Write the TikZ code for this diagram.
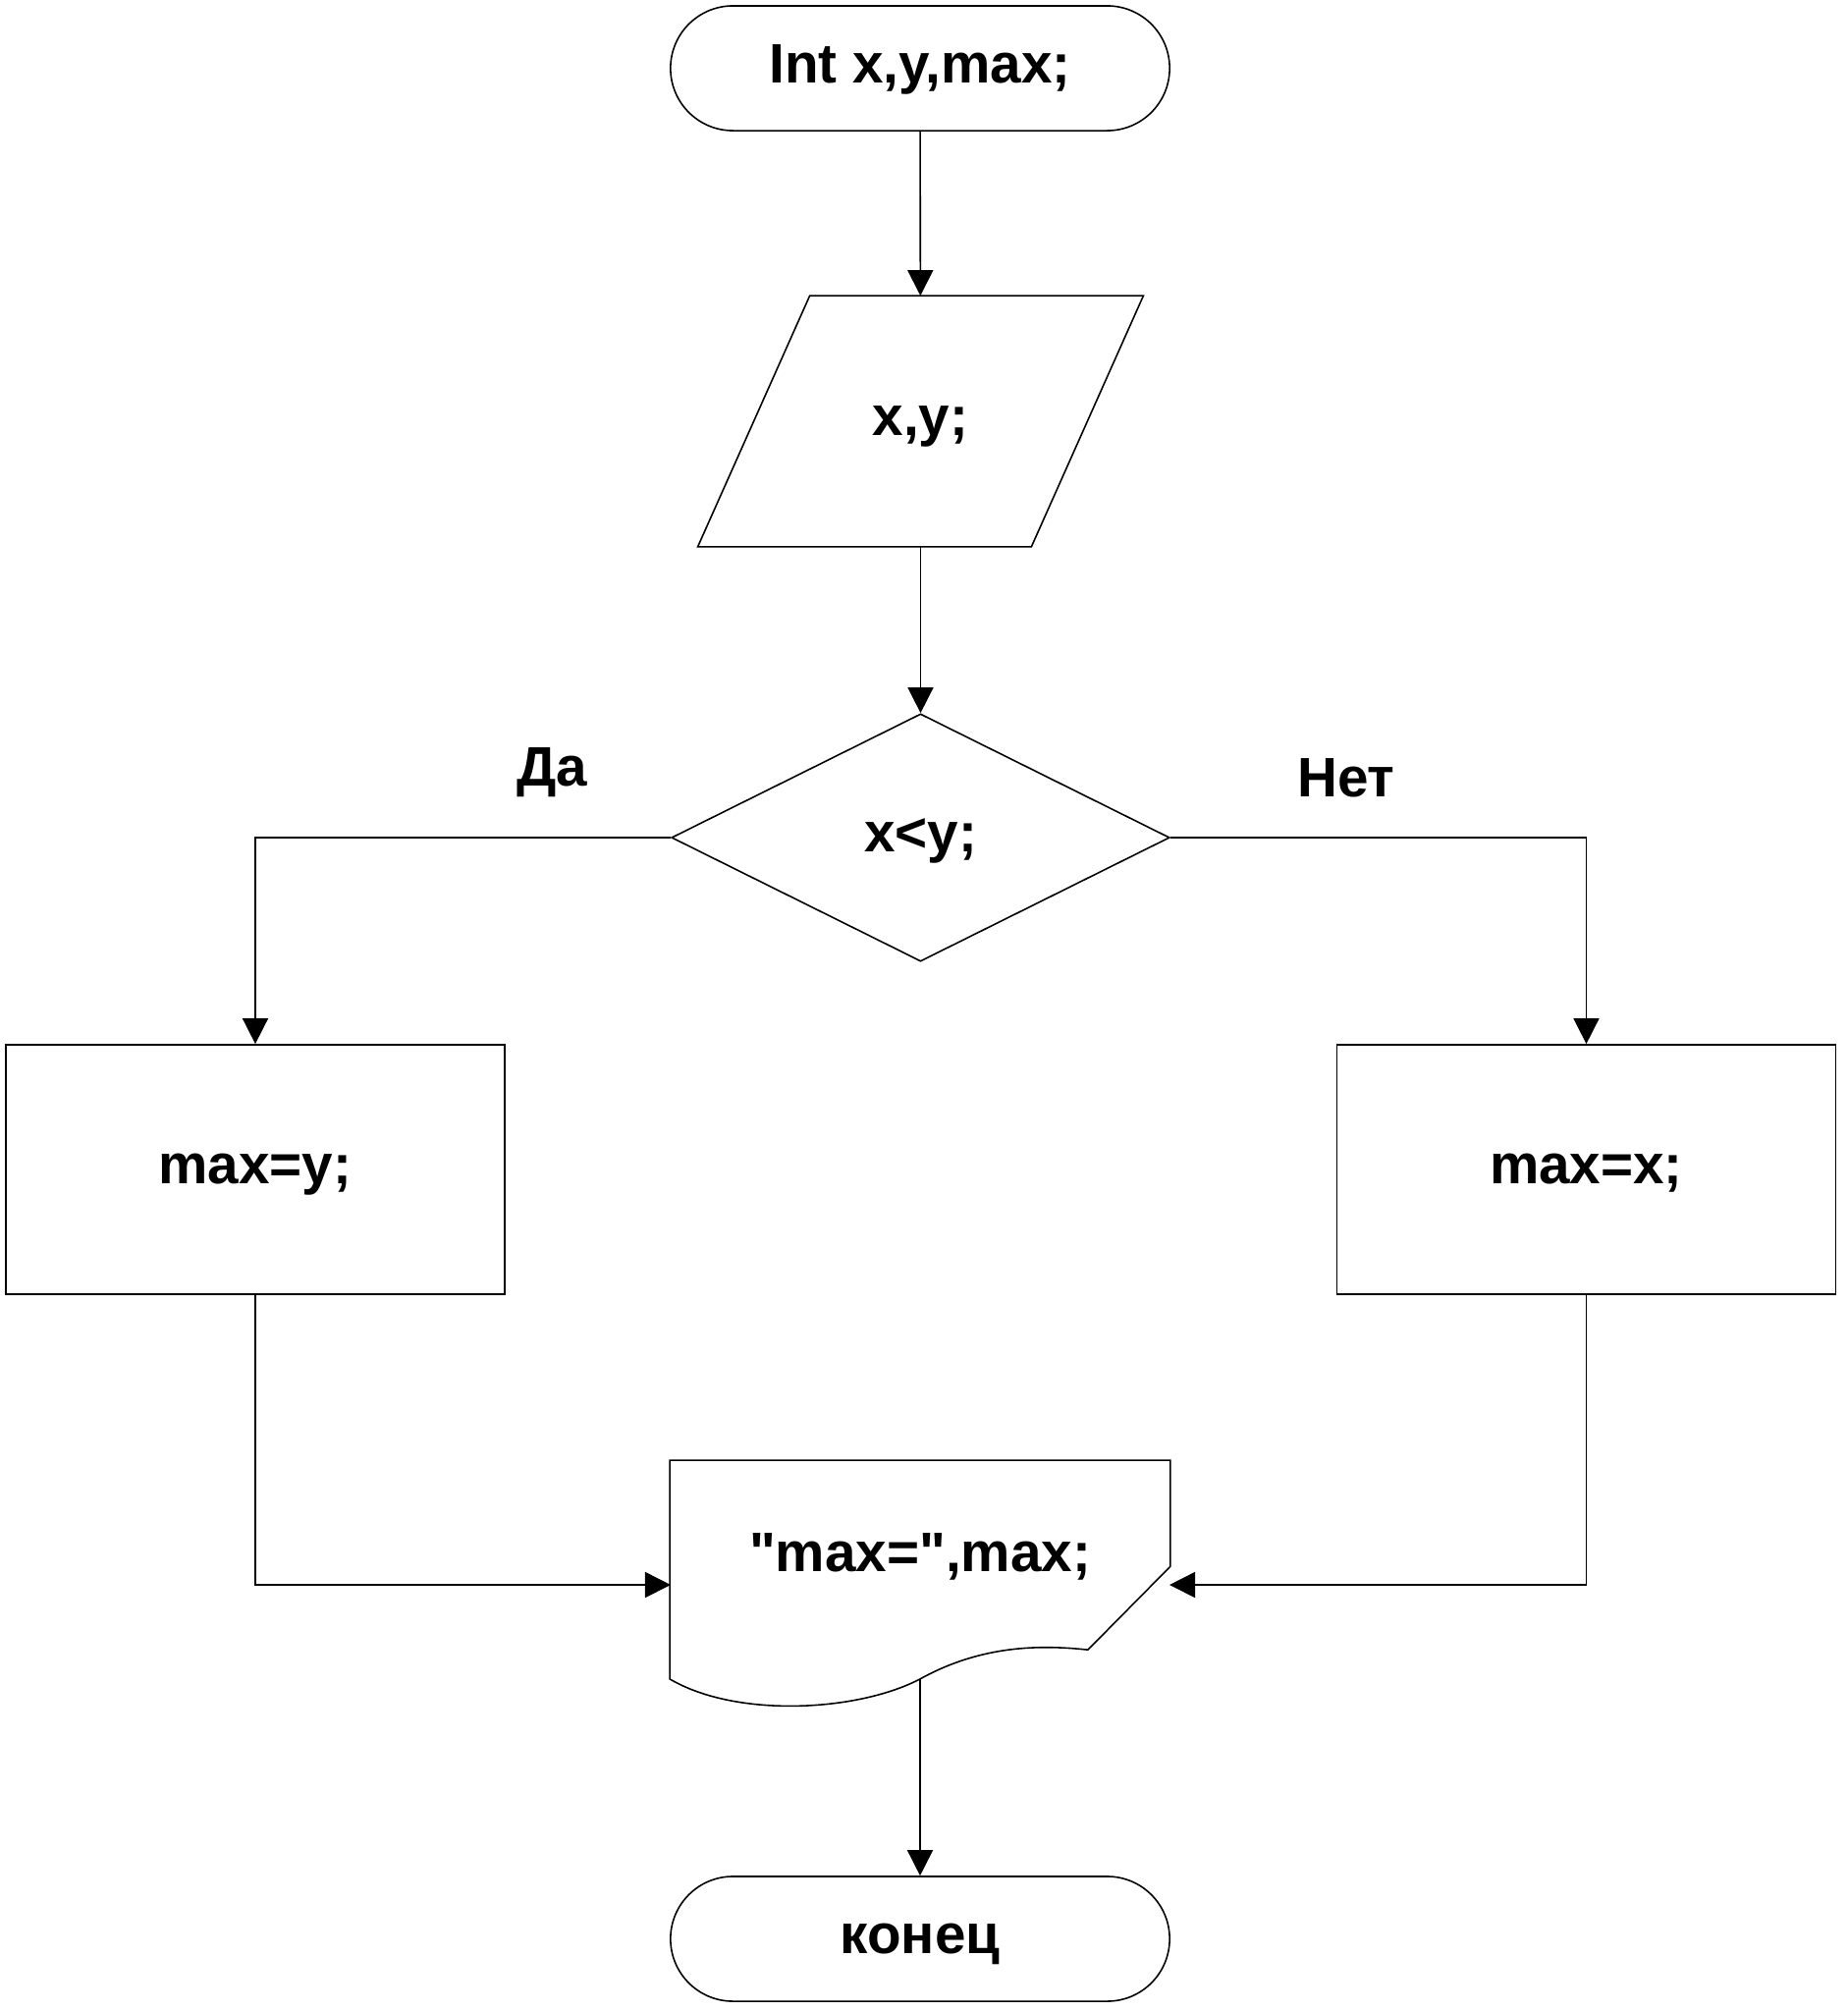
\documentclass[tikz,border=0pt]{standalone}
\usepackage{fontspec}
\setmainfont{Liberation Sans}
\usepackage{tikz}
\usetikzlibrary{shapes.geometric,shapes.misc,arrows.meta}

\begin{document}
\begin{tikzpicture}[x=0.01cm,y=-0.01cm,line width=0.45pt,
    font=\fontsize{16.1pt}{19pt}\selectfont\bfseries,
    every node/.style={text height=0.408cm,text depth=0.113cm,inner sep=0pt},
    term/.style={draw,rounded rectangle,minimum width=5.08cm,minimum height=1.27cm},
    iobox/.style={rectangle,minimum width=3.38cm,minimum height=2.54cm},
    cond/.style={draw,diamond,minimum width=5.07cm,minimum height=2.52cm},
    proc/.style={draw,rectangle,minimum width=5.08cm,minimum height=2.54cm},
    docbox/.style={minimum width=5.08cm,minimum height=2.21cm,text depth=0.36cm},
    arr/.style={-{Triangle[length=0.26cm,width=0.26cm]}}]
    \useasboundingbox (0,0) rectangle (1881,2048);

    % Begin
    \node[term] (start) at (937,69.5) {Int x,y,max;};

    % Input
    \node[iobox] (input) at (937.5,429) {x,y;};
    \draw ([xshift=0.57cm]input.north west) -- ([xshift=0.57cm]input.north east)
        -- ([xshift=-0.57cm]input.south east) -- ([xshift=-0.57cm]input.south west) -- cycle;

    % Condition
    \node[cond] (cmp) at (937.5,853) {x<y;};
    \node (yes) at (562,786) {Да};
    \node (no) at (1371,796.5) {Нет};

    % Branches
    \node[proc] (left) at (260,1191) {max=y;};
    \node[proc] (right) at (1615.5,1191) {max=x;};

    % Output
    \node[docbox] (out) at (937,1598.5) {\textquotedbl max=\textquotedbl,max;};
    \draw (out.north west) -- (out.north east) -- ++(0,108) -- ++(-84,85)
        .. controls (1060,1675) and (1000,1675) .. (out.south)
        .. controls (874,1743) and (750,1750) .. (out.south west) -- cycle;
    \coordinate (inL) at (683,1614);
    \coordinate (inR) at (1191,1614);

    % End
    \node[term] (stop) at (937,1974.5) {конец};

    % Arrows
    \draw[arr] (start) -- (input);
    \draw[arr] (input) -- (cmp);
    \draw[arr] (cmp.west) -| (left.north);
    \draw[arr] (cmp.east) -| (right.north);
    \draw[arr] (left.south) |- (inL);
    \draw[arr] (right.south) |- (inR);
    \draw[arr] (out.south) -- (stop.north);
\end{tikzpicture}
\end{document}
